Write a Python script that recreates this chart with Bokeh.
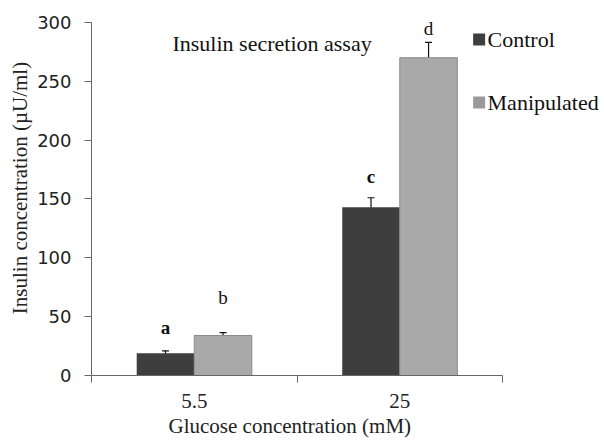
from bokeh.plotting import figure
from bokeh.models import Range1d, FixedTicker, ColumnDataSource, Whisker, TeeHead, Title
from bokeh.core.properties import value
from bokeh.embed import file_html
from bokeh.resources import INLINE

# ---- data ----
categories = ["5.5", "25"]
control = [19, 143]
control_err = [2, 8]
manipulated = [34, 270]
manipulated_err = [2.5, 13]
control_letters = ["a", "c"]
manipulated_letters = ["b", "d"]
y_ticks = [0, 50, 100, 150, 200, 250, 300]
series_names = ["Control", "Manipulated"]
title_text = "Insulin secretion assay"
x_title = "Glucose concentration (mM)"
y_title = "Insulin concentration (\u00b5U/ml)"

# ---- style ----
SERIF = "Liberation Serif"
C_CTRL = "#3e3e3e"
C_MANI = "#a9a9a9"
BAR_W = 0.28
centers = [i + 0.5 for i in range(len(categories))]
x_ctrl = [c - BAR_W / 2 for c in centers]
x_mani = [c + BAR_W / 2 for c in centers]
ctrl_letter_off = [20, 18]
mani_letter_off = [30, 12]

p = figure(width=604, height=440,
           x_range=Range1d(0, 2.496), y_range=Range1d(0, 318.6),
           output_backend="svg", toolbar_location=None,
           min_border_left=91, min_border_right=0,
           min_border_top=0, min_border_bottom=65)
p.title.visible = False
p.outline_line_color = None
p.xgrid.visible = False
p.ygrid.visible = False
p.background_fill_color = "white"
p.border_fill_color = "white"

# bars
p.vbar(x=x_ctrl, top=control, width=BAR_W, bottom=0,
       fill_color=C_CTRL, line_color=None)
p.vbar(x=x_mani, top=manipulated, width=BAR_W, bottom=0,
       fill_color=C_MANI, line_color="#8a8a8a", line_width=1)

# error bars
for xs, vals, errs in [(x_ctrl, control, control_err), (x_mani, manipulated, manipulated_err)]:
    src = ColumnDataSource(dict(
        x=xs,
        upper=[v + e for v, e in zip(vals, errs)],
        lower=[v - e for v, e in zip(vals, errs)]))
    w = Whisker(base="x", upper="upper", lower="lower", source=src,
                line_color="#111111", line_width=1.2,
                upper_head=TeeHead(size=7, line_color="#111111", line_width=1.2),
                lower_head=TeeHead(size=7, line_color="#111111", line_width=1.2))
    p.add_layout(w)

# significance letters
p.text(x=x_ctrl,
       y=[v + e + o for v, e, o in zip(control, control_err, ctrl_letter_off)],
       text=control_letters, text_font=value(SERIF), text_font_size="19px",
       text_font_style="bold", text_align="center", text_baseline="middle",
       text_color="#111111")
p.text(x=x_mani,
       y=[v + e + o for v, e, o in zip(manipulated, manipulated_err, mani_letter_off)],
       text=manipulated_letters, text_font=value(SERIF), text_font_size="19px",
       text_align="center", text_baseline="middle", text_color="#111111")

# in-plot title
p.text(x=[0.394], y=[282], text=[title_text], text_font=value(SERIF),
       text_font_size="22px", text_align="left", text_baseline="middle",
       text_color="#111111")

# legend
p.scatter(x=[1.886, 1.886], y=[285.5, 232], marker="square", size=12,
          fill_color=[C_CTRL, "#9a9a9a"], line_color=None)
p.text(x=[1.927, 1.927], y=[285.5, 232], text=series_names,
       text_font=value(SERIF), text_font_size="22px",
       text_align="left", text_baseline="middle", text_color="#111111")

# y axis
ya = p.yaxis[0]
ya.ticker = FixedTicker(ticks=y_ticks)
ya.bounds = (0, 300)
ya.axis_line_color = "#666666"
ya.major_tick_line_color = "#666666"
ya.major_tick_out = 7
ya.major_tick_in = 0
ya.minor_tick_out = 0
ya.minor_tick_in = 0
ya.major_label_standoff = 13
ya.major_label_text_font = "DejaVu Sans"
ya.major_label_text_font_size = "18px"
ya.major_label_text_color = "#222222"
ya.axis_label = y_title
ya.axis_label_text_font = SERIF
ya.axis_label_text_font_size = "21px"
ya.axis_label_text_font_style = "normal"
ya.axis_label_text_color = "#222222"
ya.axis_label_standoff = 2

# x axis
xa = p.xaxis[0]
xa.ticker = FixedTicker(ticks=centers, minor_ticks=[0, 1, 2])
xa.bounds = (0, 2)
xa.major_label_overrides = {c: lab for c, lab in zip(centers, categories)}
xa.axis_line_color = "#666666"
xa.major_tick_out = 0
xa.major_tick_in = 0
xa.minor_tick_out = 7
xa.minor_tick_in = 0
xa.minor_tick_line_color = "#666666"
xa.major_label_standoff = 11
xa.major_label_text_font = SERIF
xa.major_label_text_font_size = "21px"
xa.major_label_text_color = "#222222"

p.add_layout(Title(text=x_title, align="left", offset=77, standoff=2,
                   text_font=SERIF, text_font_size="21px",
                   text_font_style="normal", text_color="#222222"), "below")

open("out.html", "w").write(file_html(p, INLINE))
